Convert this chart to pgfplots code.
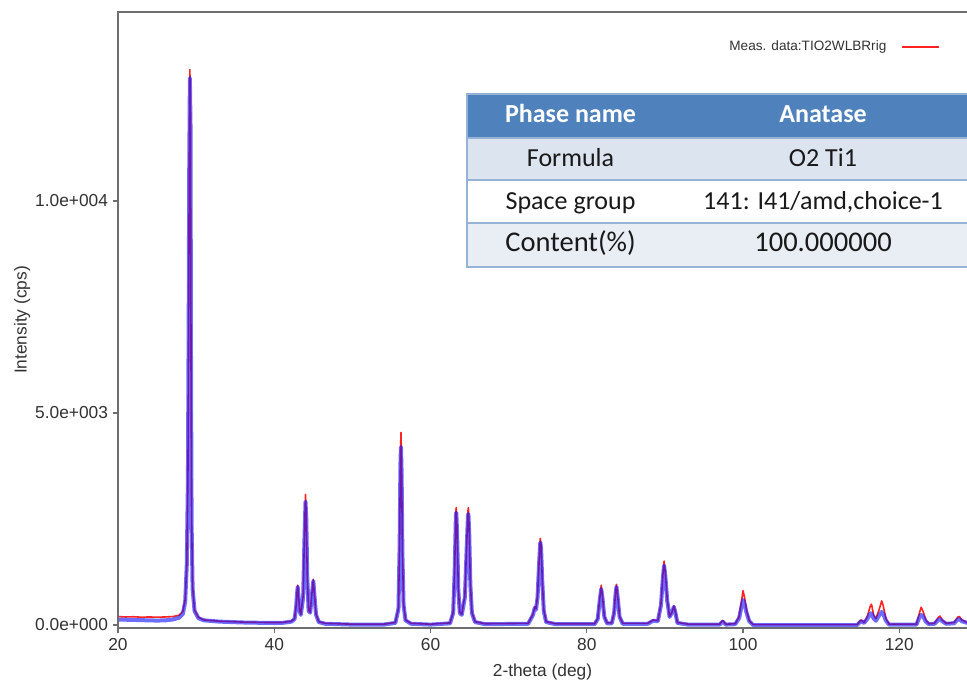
\documentclass[border=0pt]{standalone}
\usepackage{pgfplots}
\pgfplotsset{compat=1.18}
\usepackage{fontspec}
\setmainfont{Liberation Sans}
\newfontfamily\carlito{Carlito}

\definecolor{axisgray}{RGB}{110,110,110}
\definecolor{ticktext}{RGB}{50,50,50}
\definecolor{measred}{RGB}{255,35,35}
\definecolor{calcblue}{RGB}{20,20,255}
\definecolor{hdrblue}{RGB}{79,129,189}
\definecolor{rowA}{RGB}{220,228,240}
\definecolor{rowC}{RGB}{233,237,244}
\definecolor{gridline}{RGB}{150,178,212}

\begin{document}
\begin{tikzpicture}
\begin{axis}[
  at={(88.5pt,39.75pt)}, anchor=south west,
  scale only axis, width=636.75pt, height=462pt,
  xmin=20, xmax=128.67, ymin=-70, ymax=14458,
  axis line style={draw=none},
  xtick={20,40,60,80,100,120},
  ytick={0,5000,10000},
  yticklabels={0.0e+000,5.0e+003,1.0e+004},
  scaled y ticks=false, scaled x ticks=false,
  xtick pos=bottom, ytick pos=left,
  tick align=outside, major tick length=4pt,
  tick style={axisgray, line width=1pt},
  /pgf/number format/assume math mode=true,
  ticklabel style={font=\fontsize{13}{15}\selectfont, text=ticktext},
  xlabel={2-theta (deg)},
  ylabel={Intensity (cps)},
  xlabel style={at={(axis description cs:0.5,-0.0714)}, anchor=center,
    font=\fontsize{13}{15}\selectfont, text=ticktext},
  ylabel style={at={(axis description cs:-0.113,0.5)}, anchor=center,
    font=\fontsize{13}{15}\selectfont, text=ticktext},
  legend plot pos=right,
  legend image code/.code={\draw[#1, line width=1.3pt] (0pt,0pt) -- (27.75pt,0pt);},
  legend style={at={(axis description cs:0.9682,0.9432)}, anchor=east,
    draw=none, fill=none, inner sep=0pt, /tikz/column sep=9pt,
    font=\fontsize{10.2}{12}\selectfont, text=ticktext},
]
% measured pattern
\addplot[measred, line width=1.2pt, line join=round, no marks] coordinates {
(20,200) (21,190) (22,195) (23,185) (24,190) (25,185) (26,190) (27,200) (27.8,230)
(28.3,320) (28.6,600) (28.8,1400) (28.95,3500) (29.05,7500) (29.12,11000) (29.2,13100)
(29.28,12000) (29.35,6000) (29.42,2500) (29.55,900) (29.8,350) (30.3,180) (31,120)
(33,90) (36,70) (39,60) (41,60) (42.2,90)
(42.6,150) (42.8,450) (42.9,750) (43.0,940) (43.1,700) (43.25,350) (43.4,250)
(43.7,700) (43.85,2000) (44.0,3080) (44.1,2600) (44.22,1200) (44.4,350) (44.6,300)
(44.8,700) (45.0,1080) (45.15,700) (45.35,250) (45.7,80) (46.5,40) (50,20) (54,20)
(55.5,60) (55.9,400) (56.05,2000) (56.15,4000) (56.22,4540) (56.3,3800) (56.4,1800)
(56.55,500) (56.8,120) (57.5,40) (60,20) (62.5,50) (62.9,300) (63.1,1400) (63.25,2700)
(63.3,2770) (63.4,2300) (63.55,900) (63.75,300) (64.0,250) (64.4,700) (64.65,2000)
(64.8,2700) (64.85,2770) (64.95,2300) (65.1,1000) (65.3,300) (65.7,80) (67,30)
(72.5,40) (73.1,250) (73.35,430) (73.5,380) (73.7,700) (73.9,1500) (74.05,2040)
(74.15,1900) (74.3,1100) (74.5,350) (74.8,80) (76,30) (81,30) (81.4,150) (81.65,600)
(81.85,940) (82.0,700) (82.25,200) (82.6,50) (83.2,50) (83.5,300) (83.7,800) (83.8,960)
(83.95,700) (84.2,200) (84.6,40) (87.8,40) (88.5,120) (89.1,100) (89.5,500) (89.75,1200)
(89.9,1510) (90.05,1250) (90.3,600) (90.6,200) (90.9,300) (91.15,450) (91.35,300)
(91.6,60) (93,20) (97,20) (97.4,110) (97.8,20) (99.0,30) (99.5,200) (99.8,550)
(100.0,810) (100.2,650) (100.45,350) (100.8,100) (101.3,10) (114.6,10) (115.1,120)
(115.5,60) (115.9,200) (116.3,450) (116.45,490) (116.7,250) (117.0,150) (117.4,350)
(117.75,570) (117.95,450) (118.3,150) (118.7,20) (122.2,20) (122.6,300) (122.8,420)
(123.05,320) (123.4,120) (123.8,30) (124.5,40) (125.0,180) (125.2,210) (125.5,120)
(126.0,40) (127.0,60) (127.5,190) (127.7,200) (128.0,120) (128.7,60)
};
\addlegendentry{Meas. data:TIO2WLBRrig}
% calculated pattern
\addplot[calcblue, opacity=0.62, line width=3pt, line join=round, no marks, forget plot] coordinates {
(20,130) (21,125) (22,120) (23,115) (24,110) (25,105) (26,110) (27,130) (27.8,170)
(28.3,260) (28.6,550) (28.8,1400) (28.95,3400) (29.05,7300) (29.12,10800) (29.2,12900)
(29.28,11800) (29.35,5800) (29.42,2400) (29.55,850) (29.8,330) (30.3,160) (31,110)
(33,80) (36,60) (39,50) (41,50) (42.2,80)
(42.6,140) (42.8,420) (42.9,700) (43.0,900) (43.1,680) (43.25,330) (43.4,240)
(43.7,650) (43.85,1900) (44.0,2910) (44.1,2500) (44.22,1150) (44.4,330) (44.6,290)
(44.8,680) (45.0,1040) (45.15,680) (45.35,240) (45.7,70) (46.5,30) (50,10) (54,10)
(55.5,50) (55.9,380) (56.05,1900) (56.15,3800) (56.22,4200) (56.3,3600) (56.4,1700)
(56.55,480) (56.8,110) (57.5,30) (60,10) (62.5,40) (62.9,280) (63.1,1300) (63.25,2600)
(63.3,2650) (63.4,2200) (63.55,850) (63.75,280) (64.0,240) (64.4,650) (64.65,1900)
(64.8,2600) (64.85,2620) (64.95,2200) (65.1,950) (65.3,280) (65.7,70) (67,20)
(72.5,30) (73.1,230) (73.35,410) (73.5,360) (73.7,650) (73.9,1450) (74.05,1950)
(74.15,1820) (74.3,1050) (74.5,330) (74.8,70) (76,20) (81,20) (81.4,140) (81.65,560)
(81.85,850) (82.0,650) (82.25,190) (82.6,40) (83.2,40) (83.5,280) (83.7,760) (83.8,900)
(83.95,660) (84.2,190) (84.6,30) (87.8,30) (88.5,100) (89.1,90) (89.5,470) (89.75,1120)
(89.9,1400) (90.05,1170) (90.3,570) (90.6,190) (90.9,290) (91.15,430) (91.35,290)
(91.6,50) (93,10) (97,10) (97.4,80) (97.8,10) (99.0,20) (99.5,160) (99.8,430)
(100.0,590) (100.2,500) (100.45,290) (100.8,90) (101.3,0) (114.6,0) (115.1,90)
(115.5,50) (115.9,140) (116.3,270) (116.45,280) (116.7,160) (117.0,100) (117.4,220)
(117.75,310) (117.95,260) (118.3,100) (118.7,10) (122.2,10) (122.6,190) (122.8,240)
(123.05,200) (123.4,80) (123.8,20) (124.5,30) (125.0,120) (125.2,140) (125.5,90)
(126.0,30) (127.0,40) (127.5,130) (127.7,140) (128.0,90) (128.7,50)
};
\end{axis}

% frame: left, top and bottom sides
\draw[axisgray, line width=1.6pt, line cap=rect]
  (730pt,501.75pt) -- (88.5pt,501.75pt) -- (88.5pt,39.75pt) -- (730pt,39.75pt);

% phase information table
\fill[hdrblue] (350.25pt,407.25pt) rectangle (730pt,440.25pt);
\fill[rowA]    (350.25pt,375.75pt) rectangle (730pt,407.25pt);
\fill[white]   (350.25pt,343.5pt)  rectangle (730pt,375.75pt);
\fill[rowC]    (350.25pt,310.5pt)  rectangle (730pt,343.5pt);
\draw[gridline, line width=0.9pt] (350.25pt,407.25pt) -- (730pt,407.25pt);
\draw[gridline, line width=0.9pt] (350.25pt,375.75pt) -- (730pt,375.75pt);
\draw[gridline, line width=0.9pt] (350.25pt,343.5pt) -- (730pt,343.5pt);
\draw[gridline, line width=0.9pt] (350.25pt,310.5pt) rectangle (730pt,440.25pt);

\begin{scope}[every node/.style={anchor=base, inner sep=0pt}]
\node[text=white, font=\carlito\bfseries\fontsize{19.5}{22}\selectfont] at (427.9pt,419pt) {Phase name};
\node[text=white, font=\carlito\bfseries\fontsize{19.5}{22}\selectfont] at (617.25pt,419pt) {Anatase};
\node[text=black!90, font=\carlito\fontsize{19.5}{22}\selectfont] at (427.9pt,385.7pt) {Formula};
\node[text=black!90, font=\carlito\fontsize{19.5}{22}\selectfont] at (617.25pt,385.7pt) {O2 Ti1};
\node[text=black!90, font=\carlito\fontsize{19.5}{22}\selectfont] at (427.9pt,353.25pt) {Space group};
\node[text=black!90, font=\carlito\fontsize{19.5}{22}\selectfont] at (617.25pt,353.25pt) {141: I41/amd,choice-1};
\node[text=black!90, font=\carlito\fontsize{21.4}{24}\selectfont] at (427.9pt,322pt) {Content(\%)};
\node[text=black!90, font=\carlito\fontsize{21.4}{24}\selectfont] at (617.25pt,322pt) {100.000000};
\end{scope}

\pgfresetboundingbox
\useasboundingbox (0,0) rectangle (725.25pt,510.75pt);
\end{tikzpicture}
\end{document}
